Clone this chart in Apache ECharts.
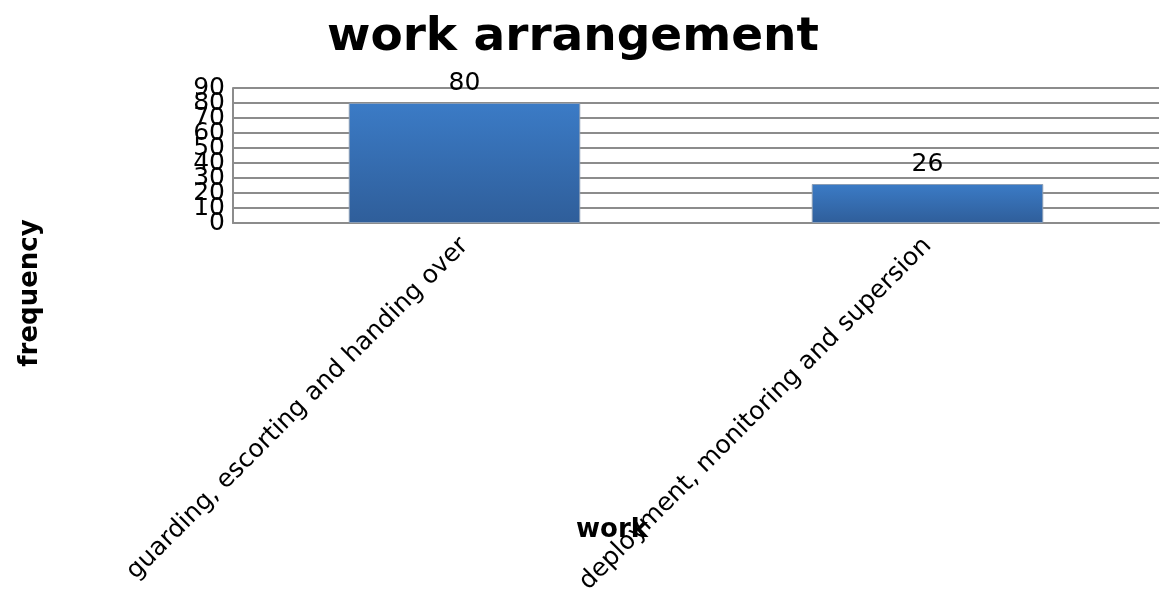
<!DOCTYPE html>
<html>
<head>
<meta charset="utf-8">
<script src="https://cdn.jsdelivr.net/npm/echarts@6/dist/echarts.min.js"></script>
<style>
  html, body { margin: 0; padding: 0; background: #fff; }
  #chart { width: 1160px; height: 603px; }
</style>
</head>
<body>
<div id="chart"></div>
<script>
// Work arrangement survey: frequency per category
const categories = ['guarding, escorting and handing over', 'deployment, monitoring and supersion'];
const frequency = [80, 26];
const yTicks = { min: 0, max: 90, interval: 10 };

const chart = echarts.init(document.getElementById('chart'));
const FONT = 'DejaVu Sans';

// Tick labels sit very close together; the end labels (0, 90) are drawn by a
// twin axis so the inner ones are not dropped by the min/max overlap check.
const isEnd = v => v === yTicks.min || v === yTicks.max;
const tickLabelStyle = {
  margin: 8,
  fontFamily: FONT,
  fontSize: 25,
  color: '#000',
  showMinLabel: true,
  showMaxLabel: true,
  hideOverlap: false
};

chart.setOption({
  animation: false,
  backgroundColor: '#ffffff',
  title: {
    text: 'work arrangement',
    left: 568,
    top: 9,
    textAlign: 'center',
    textStyle: { fontFamily: FONT, fontSize: 47, fontWeight: 'bold', color: '#000' }
  },
  grid: { left: 233, right: 1, top: 88, bottom: 380, containLabel: false },
  xAxis: {
    type: 'category',
    data: categories,
    axisLine: { show: true, lineStyle: { color: '#8c8c8c', width: 2 } },
    axisTick: { show: false },
    axisLabel: {
      rotate: 45,
      margin: 19,
      interval: 0,
      fontFamily: FONT,
      fontSize: 25,
      color: '#000'
    },
    splitLine: { show: false }
  },
  yAxis: [
    {
      type: 'value',
      position: 'left',
      min: yTicks.min,
      max: yTicks.max,
      interval: yTicks.interval,
      axisLine: { show: true, lineStyle: { color: '#8c8c8c', width: 2 } },
      axisTick: { show: false },
      axisLabel: Object.assign({}, tickLabelStyle, {
        formatter: v => (isEnd(v) ? '' : String(v))
      }),
      splitLine: { show: true, lineStyle: { color: '#8c8c8c', width: 2 } }
    },
    {
      type: 'value',
      position: 'left',
      offset: 0,
      min: yTicks.min,
      max: yTicks.max,
      interval: yTicks.interval,
      axisLine: { show: false },
      axisTick: { show: false },
      axisLabel: Object.assign({}, tickLabelStyle, {
        formatter: v => (isEnd(v) ? String(v) : '')
      }),
      splitLine: { show: false }
    }
  ],
  graphic: [
    {
      type: 'text',
      x: 30, y: 293,
      rotation: Math.PI / 2,
      style: {
        text: 'frequency',
        fontFamily: FONT, fontSize: 26, fontWeight: 'bold', fill: '#000',
        textAlign: 'center', textVerticalAlign: 'middle'
      }
    },
    {
      type: 'text',
      x: 612, y: 530,
      style: {
        text: 'work',
        fontFamily: FONT, fontSize: 26, fontWeight: 'bold', fill: '#000',
        textAlign: 'center', textVerticalAlign: 'middle'
      }
    }
  ],
  series: [{
    type: 'bar',
    yAxisIndex: 0,
    data: frequency,
    barWidth: '50%',
    itemStyle: {
      color: new echarts.graphic.LinearGradient(0, 0, 0, 1, [
        { offset: 0, color: '#3b7bc6' },
        { offset: 1, color: '#2f5e9a' }
      ]),
      borderColor: '#8a9db5',
      borderWidth: 1
    },
    label: {
      show: true,
      position: 'top',
      distance: 7,
      fontFamily: FONT,
      fontSize: 25,
      color: '#000'
    }
  }]
});
</script>
</body>
</html>
